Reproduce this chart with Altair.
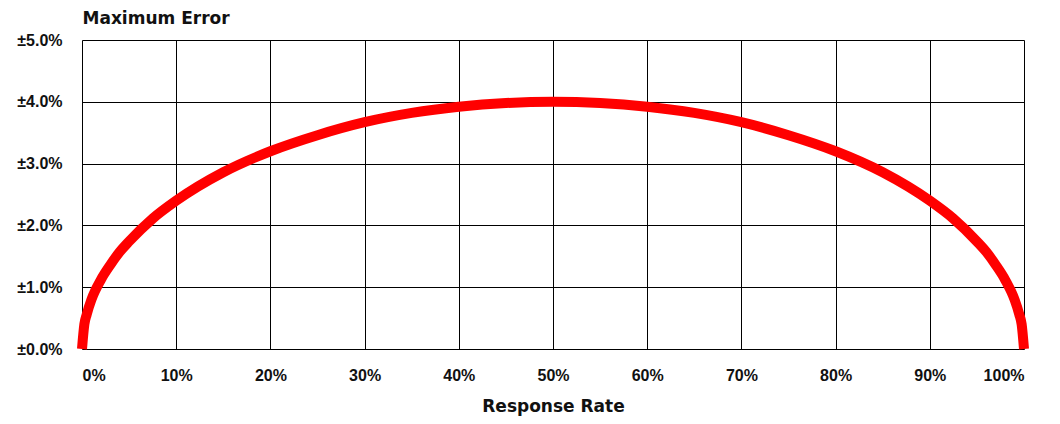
import altair as alt
import pandas as pd

rate = [0, 0.25, 0.5, 1, 2, 3, 4, 5, 7.5, 10, 15, 20, 25, 30, 35, 40, 45, 50,
        55, 60, 65, 70, 75, 80, 85, 90, 92.5, 95, 96, 97, 98, 99, 99.5, 99.75, 100]
error = [0.0, 0.40, 0.56, 0.80, 1.12, 1.36, 1.57, 1.74, 2.11, 2.40, 2.86, 3.20, 3.46, 3.67, 3.82, 3.92, 3.98, 4.00,
         3.98, 3.92, 3.82, 3.67, 3.46, 3.20, 2.86, 2.40, 2.11, 1.74, 1.57, 1.36, 1.12, 0.80, 0.56, 0.40, 0.0]

x_ticks = [0, 10, 20, 30, 40, 50, 60, 70, 80, 90, 100]
y_ticks = [0, 1, 2, 3, 4, 5]

df = pd.DataFrame({"rate": rate, "error": error})

FONT = "Liberation Sans"
TFONT = "DejaVu Sans"

chart = alt.Chart(df).mark_line(
    color="#FF0000", strokeWidth=10, interpolate="monotone", clip=False, strokeCap="butt"
).encode(
    x=alt.X("rate:Q",
            scale=alt.Scale(domain=[0, 100], nice=False),
            axis=alt.Axis(values=x_ticks, title="Response Rate",
                          labelExpr="format(datum.value, 'd') + '%'",
                          ticks=False, domain=False, grid=True,
                          gridColor="black", gridOpacity=1, gridWidth=1,
                          labelFont=FONT, labelFontSize=16, labelFontWeight="bold",
                          labelColor="#111111", labelPadding=18,
                          titleFont=TFONT, titleFontSize=17, titleFontWeight="bold",
                          titleColor="#111111", titlePadding=15)),
    y=alt.Y("error:Q",
            scale=alt.Scale(domain=[0, 5], nice=False),
            axis=alt.Axis(values=y_ticks, title="Maximum Error",
                          labelExpr="'±' + format(datum.value, '.1f') + '%'",
                          ticks=False, domain=False, grid=True,
                          gridColor="black", gridOpacity=1, gridWidth=1,
                          labelFont=FONT, labelFontSize=16, labelFontWeight="bold",
                          labelColor="#111111", labelPadding=20,
                          titleFont=TFONT, titleFontSize=17, titleFontWeight="bold",
                          titleColor="#111111", titleAngle=0, titleX=0, titleY=-13,
                          titleAlign="left", titleBaseline="bottom")),
).properties(
    width=942, height=309,
    autosize=alt.AutoSizeParams(type="none"),
    padding={"left": 74, "top": 32, "right": 28, "bottom": 67},
).configure_view(
    fill="#FFF9DB", stroke="black", strokeWidth=2
).configure(background="white")

chart.save("out.html", embed_options={"renderer": "svg", "actions": False})
